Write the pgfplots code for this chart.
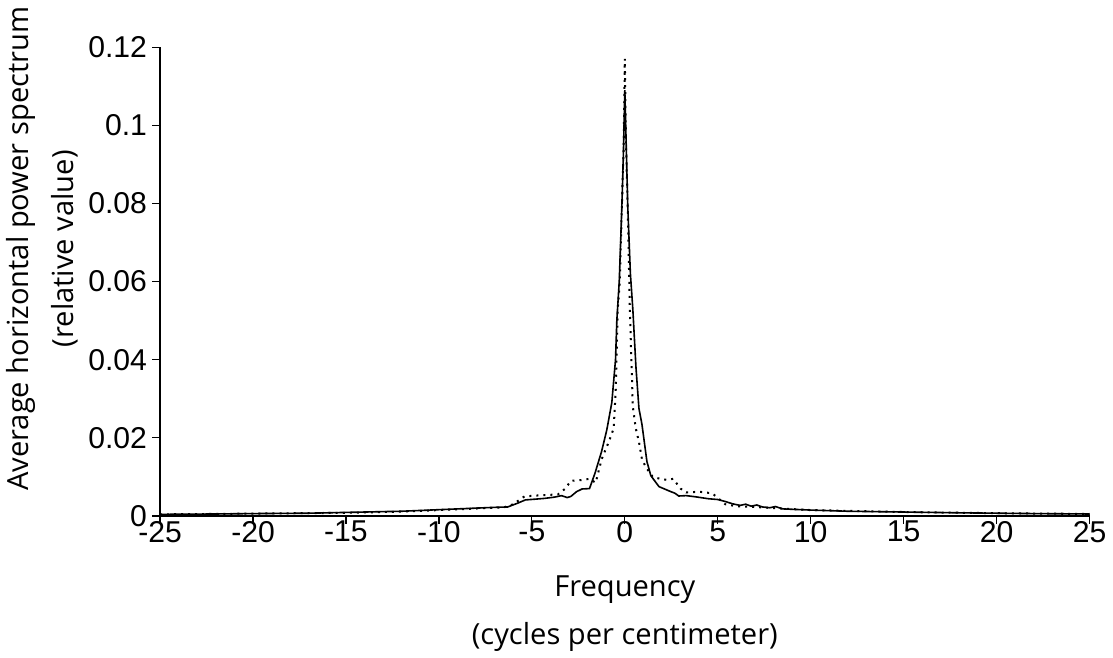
\documentclass[border=0pt]{standalone}
\usepackage{pgfplots}
\pgfplotsset{compat=1.18}
\usepackage{fontspec}
\setmainfont{Open Sans}
\newfontfamily\arial{Liberation Sans}
\begin{document}
\begin{tikzpicture}
\begin{axis}[
  scale only axis,
  width=463pt, height=233.5pt,
  xmin=-25, xmax=25, ymin=0, ymax=0.12,
  axis lines=left,
  axis line style={-, line width=1pt, black},
  tick align=outside,
  major tick length=4pt,
  tick style={black, line width=0.6pt},
  xtick={-25,-20,-15,-10,-5,0,5,10,15,20,25},
  xticklabels={-25,-20,-15,-10,-5,0,5,10,15,20,25},
  ytick={0,0.02,0.04,0.06,0.08,0.1,0.12},
  yticklabels={0,0.02,0.04,0.06,0.08,0.1,0.12},
  tick label style={font=\arial\fontsize{15}{18}\selectfont},
  xticklabel style={yshift=5pt},
  yticklabel style={xshift=1pt},
  xlabel={Frequency\\(cycles per centimeter)},
  xlabel style={align=center, font=\fontsize{14.5}{23.5}\selectfont, yshift=-10pt},
  ylabel={Average horizontal power spectrum\\(relative value)},
  ylabel style={align=center, font=\fontsize{14.5}{22.5}\selectfont, at={(ticklabel cs:0.57)}, yshift=-2pt},
  clip=false,
]
\addplot[black, line width=0.8pt] coordinates {
(-25,0.0004) (-22,0.0005) (-20,0.0006) (-17,0.0007) (-15,0.0009) (-12,0.0012)
(-10,0.0016) (-8,0.0020) (-7,0.0022) (-6.3,0.0023) (-5.8,0.0032) (-5.35,0.0041)
(-4.8,0.0043) (-4.3,0.0045) (-3.8,0.0048) (-3.4,0.0052) (-3.1,0.0047) (-2.9,0.0050)
(-2.6,0.0062) (-2.3,0.0069) (-1.9,0.0070) (-1.6,0.0110) (-1.25,0.0165) (-0.97,0.0220)
(-0.70,0.0290) (-0.5,0.040) (-0.43,0.050) (-0.3,0.060) (-0.16,0.079) (-0.08,0.092)
(0,0.109) (0.08,0.094) (0.16,0.079) (0.3,0.062) (0.43,0.053) (0.6,0.038)
(0.76,0.0275) (0.92,0.0235) (1.19,0.0139) (1.4,0.0103) (1.84,0.0075) (2.38,0.0064)
(2.7,0.0058) (2.9,0.0051) (3.3,0.0052) (3.8,0.0049) (4.5,0.0044) (5.0,0.0042)
(5.4,0.0037) (5.8,0.0031) (6.2,0.0027) (6.5,0.0030) (6.8,0.0025) (7.1,0.0028)
(7.4,0.0023) (7.8,0.0021) (8.1,0.0024) (8.5,0.0018) (9,0.0017) (10,0.0015)
(12,0.0012) (15,0.0010) (18,0.0008) (20,0.0007) (22,0.0006) (25,0.0005)
};
\addplot[black, line width=1pt, dash pattern=on 1pt off 2.5pt] coordinates {
(-25,0.0004) (-20,0.0006) (-15,0.0008) (-12,0.0011) (-10,0.0015) (-8,0.0019)
(-6.5,0.0022) (-6,0.0030) (-5.4,0.0050) (-4.5,0.0053) (-3.6,0.0055) (-3.2,0.0070)
(-2.9,0.0090) (-2.3,0.0092) (-1.9,0.0095) (-1.57,0.0085) (-1.24,0.0146) (-0.86,0.0190)
(-0.6,0.0224) (-0.49,0.032) (-0.38,0.053) (-0.27,0.060) (-0.16,0.079) (-0.06,0.095)
(0,0.117) (0.06,0.096) (0.16,0.078) (0.27,0.053) (0.43,0.028) (0.59,0.0224)
(0.76,0.019) (0.92,0.0146) (1.13,0.0125) (1.5,0.0100) (1.9,0.0095) (2.3,0.0092)
(2.6,0.0095) (3.0,0.0070) (3.3,0.0060) (4.0,0.0062) (4.7,0.0058) (5.4,0.0030)
(6,0.0025) (7,0.0023) (8,0.0020) (10,0.0015) (15,0.0010) (20,0.0007) (25,0.0005)
};
\end{axis}
\end{tikzpicture}
\end{document}
